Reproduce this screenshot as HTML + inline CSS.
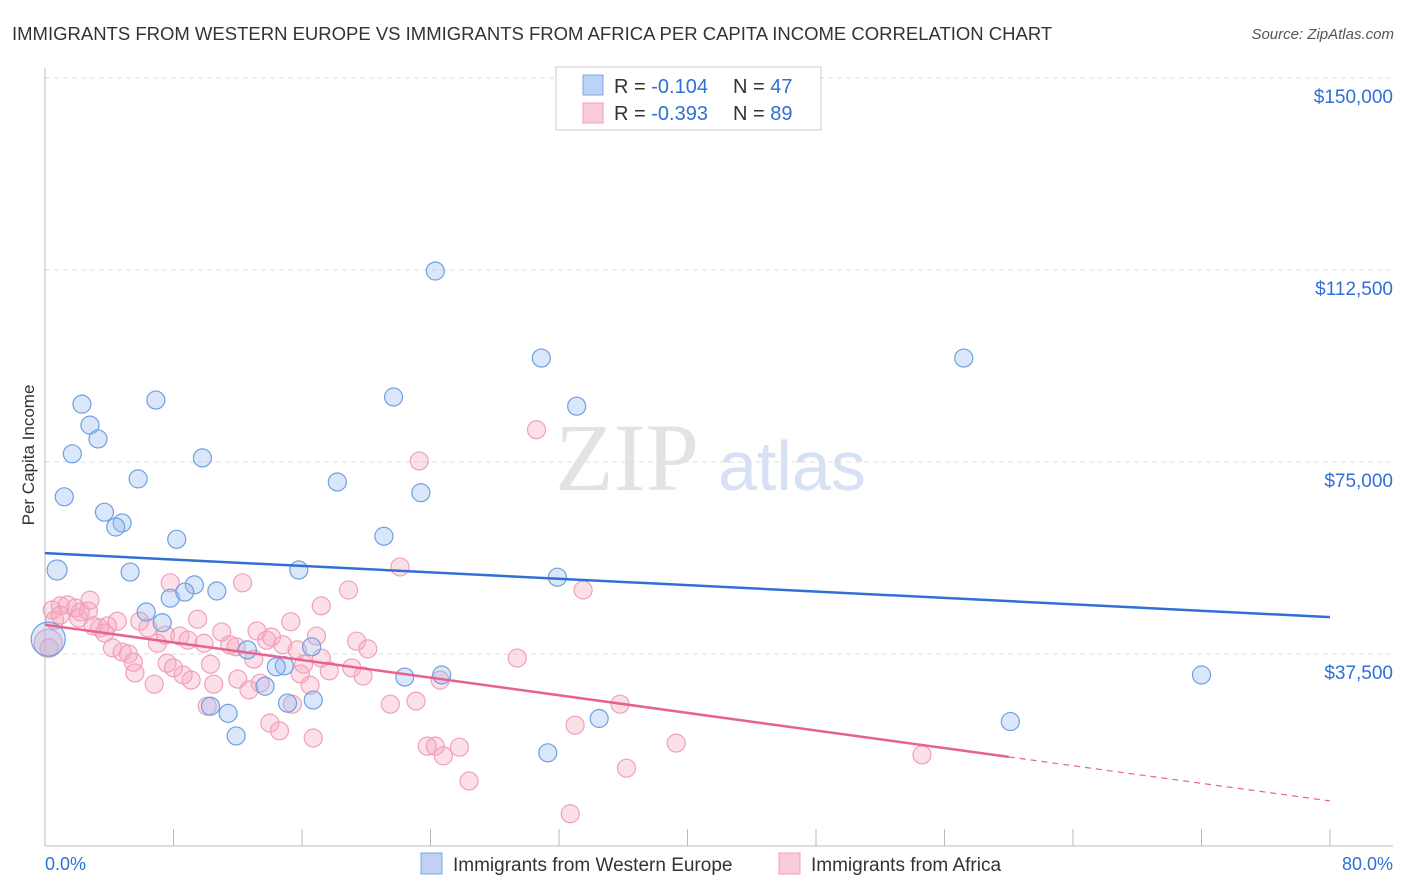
<!DOCTYPE html>
<html><head><meta charset="utf-8"><style>
body{margin:0;background:#fff;font-family:"Liberation Sans",sans-serif;}
svg{display:block}
</style></head><body>
<svg id="chart" width="1406" height="892">
<text x="12" y="40" font-size="18.5" fill="#333">IMMIGRANTS FROM WESTERN EUROPE VS IMMIGRANTS FROM AFRICA PER CAPITA INCOME CORRELATION CHART</text>
<text x="1394" y="39" font-size="15" fill="#555" font-style="italic" text-anchor="end">Source: ZipAtlas.com</text>
<text x="34" y="455" font-size="17" fill="#333" text-anchor="middle" transform="rotate(-90 34 455)">Per Capita Income</text>
<text x="555" y="490" font-size="96" fill="#e3e3e3" font-family="Liberation Serif">ZIP</text>
<text x="718" y="490" font-size="70" fill="#d6e2f3">atlas</text>
<g id="grid"></g><g id="pts"></g><g id="lines"></g>
<g>
<rect x="556" y="67" width="265" height="63" fill="#fff" stroke="#ccc"/>
<rect x="583" y="75" width="20" height="20" fill="#bcd3f5" stroke="#7aa7e6"/>
<rect x="583" y="103" width="20" height="20" fill="#fbcbd9" stroke="#f0a0bb"/>
<text x="614" y="93" font-size="20" fill="#333">R = <tspan fill="#2f6fd6">-0.104</tspan></text>
<text x="733" y="93" font-size="20" fill="#333">N = <tspan fill="#2f6fd6">47</tspan></text>
<text x="614" y="120" font-size="20" fill="#333">R = <tspan fill="#2f6fd6">-0.393</tspan></text>
<text x="733" y="120" font-size="20" fill="#333">N = <tspan fill="#2f6fd6">89</tspan></text>
</g>
<g>
<rect x="421" y="853" width="21" height="21" fill="#bcd3f5" stroke="#7aa7e6"/>
<text x="453" y="871" font-size="19" fill="#333">Immigrants from Western Europe</text>
<rect x="779" y="853" width="21" height="21" fill="#fbcbd9" stroke="#f0a0bb"/>
<text x="811" y="871" font-size="19" fill="#333">Immigrants from Africa</text>
</g>
<text x="45" y="870" font-size="18" fill="#2f6fd6">0.0%</text>
<text x="1393" y="870" font-size="18" fill="#2f6fd6" text-anchor="end">80.0%</text>
</svg>
<script>
const yTicks=[37500,75000,112500,150000];
const yTickLabels=["$37,500","$75,000","$112,500","$150,000"];
const blueX=[24.3,30.9,57.2,2.3,6.9,21.7,33.1,2.8,3.3,1.7,9.8,5.8,18.2,23.4,1.2,3.7,4.8,4.4,21.1,8.2,0.75,5.3,15.8,31.9,9.3,10.7,7.8,8.7,6.3,7.3,0.2,12.6,16.6,14.9,14.4,22.4,24.7,72.0,13.7,16.7,15.1,10.3,11.4,34.5,60.1,11.9,31.3];
const blueY=[112300,95300,95300,86300,87100,87700,85900,82200,79500,76600,75800,71700,71100,69000,68200,65200,63100,62300,60500,59900,53900,53500,53900,52500,51000,49800,48400,49600,45700,43600,40400,38300,38900,35200,35000,33000,33400,33400,31200,28500,27900,27300,25900,24900,24300,21500,18200];
const pinkX=[30.6,23.3,22.1,33.5,18.9,12.3,7.8,17.2,15.3,9.5,0.45,0.95,1.4,1.9,2.2,2.7,0.6,2.1,3.0,3.4,3.9,4.5,3.7,5.9,6.4,7.5,8.4,8.9,7.0,9.9,11.0,11.5,11.9,13.2,13.8,14.8,14.1,16.9,19.4,20.1,15.7,4.2,4.8,5.2,5.5,5.6,7.6,10.3,13.0,16.1,17.2,17.7,19.1,19.8,24.6,29.4,8.6,8.0,6.8,9.1,10.5,12.0,13.4,15.9,16.5,12.7,10.1,15.4,21.5,23.1,35.8,14.0,14.6,33.0,16.7,23.8,24.3,25.8,24.8,39.3,54.6,36.2,26.4,32.7,0.2,0.25,2.8,0.95];
const pinkY=[81300,75200,54500,50000,50000,51400,51400,46900,43800,44300,46100,46900,47100,46500,45700,45900,44100,44500,43000,42600,43000,43900,41600,43900,42600,41200,41000,40200,39600,39600,41800,39300,38900,42000,40200,39300,40800,41000,40000,38500,38300,38700,37900,37500,35900,33800,35700,35500,36500,35500,36700,34200,34800,33200,32400,36700,33400,34800,31600,32400,31600,32600,31800,33600,31400,30500,27300,27700,27700,28300,27700,24000,22500,23600,21100,19500,19500,19300,17600,20100,17800,15200,12700,6300,39600,38700,48000,45100];
const blueTrend=[57200,44700];
const pinkTrend=[43200,8800];
const big={b30:1,p84:1};
const X0=45,X1=1330,Y0=846,PY=192/37500;
const sx=v=>X0+v/80*(X1-X0), sy=v=>Y0-v*PY;
const NS="http://www.w3.org/2000/svg";
function mk(t,a,p){const e=document.createElementNS(NS,t);for(const k in a)e.setAttribute(k,a[k]);p.appendChild(e);return e;}
const grid=document.getElementById('grid');
yTicks.forEach((t,i)=>{
 const l=mk('line',{x1:45,x2:1393,y1:sy(t),y2:sy(t),stroke:'#ddd','stroke-dasharray':'5,4'},grid);
 
 
 const tx=mk('text',{x:1393,y:sy(t)+25,'font-size':19,fill:'#2f6fd6','text-anchor':'end'},grid);
 tx.textContent=yTickLabels[i];
 
 
});
mk('line',{x1:45,x2:45,y1:68,y2:846,stroke:'#bbb'},grid);
mk('line',{x1:45,x2:1393,y1:846,y2:846,stroke:'#bbb'},grid);
for(let i=0;i<=10;i++){const t=mk('line',{x1:sx(i*8),x2:sx(i*8),y1:829,y2:846,stroke:'#bbb'},grid);
 
 }
const pts=document.getElementById('pts');
pinkX.forEach((x,i)=>{const c=mk('circle',{cx:sx(x),cy:sy(pinkY[i]),r:big['p'+i]?14:9,fill:'rgba(245,165,190,0.35)',stroke:'#f0a0bb','stroke-width':1.2},pts);
 
 });
blueX.forEach((x,i)=>{const c=mk('circle',{cx:sx(x),cy:sy(blueY[i]),r:big['b'+i]?17:(i==20?10:9),fill:'rgba(150,185,240,0.35)',stroke:'#6fa0e0','stroke-width':1.2},pts);
 
 });
const L=document.getElementById('lines');
const bl=mk('line',{x1:sx(0),y1:sy(blueTrend[0]),x2:sx(80),y2:sy(blueTrend[1]),stroke:'#2f6fd6','stroke-width':2.5},L);


const pAt=x=>pinkTrend[0]+(pinkTrend[1]-pinkTrend[0])*x/80;
const pl=mk('line',{x1:sx(0),y1:sy(pAt(0)),x2:sx(60),y2:sy(pAt(60)),stroke:'#e8628f','stroke-width':2.5},L);


const pd=mk('line',{x1:sx(60),y1:sy(pAt(60)),x2:sx(80),y2:sy(pAt(80)),stroke:'#e8628f','stroke-width':1.2,'stroke-dasharray':'6,5'},L);


</script>
</body></html>
